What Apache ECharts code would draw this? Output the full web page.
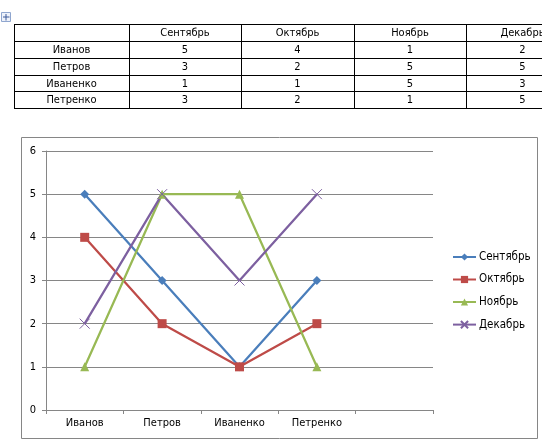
<!DOCTYPE html>
<html>
<head>
<meta charset="utf-8">
<script src="https://cdn.jsdelivr.net/npm/echarts@6/dist/echarts.min.js"></script>
<style>
html,body{margin:0;padding:0;background:#fff;}
#c{width:542px;height:446px;}
</style>
</head>
<body>
<div id="c"></div>
<script>
// Data
var people = ['Иванов', 'Петров', 'Иваненко', 'Петренко'];
var months = ['Сентябрь', 'Октябрь', 'Ноябрь', 'Декабрь'];
var sep = [5, 3, 1, 3];
var oct = [4, 2, 1, 2];
var nov = [1, 5, 5, 1];
var dec = [2, 5, 3, 5];
var yTicks = [0, 1, 2, 3, 4, 5, 6];

var seriesValues = [sep, oct, nov, dec];
var colors = ['#4A7EBB', '#BE4B48', '#98B954', '#7D60A0'];
var symbols = ['diamond', 'rect', 'triangle', 'path://M0,0 L10,10 M10,0 L0,10'];
var symbolSizes = [9, 9, 9, 10];
var FAMILY = '"DejaVu Sans Condensed", "Liberation Sans", sans-serif';
var FONT = '11px ' + FAMILY;

// Table (graphic), built from arrays
var colX = [14, 129, 241, 354, 466, 579];
var rowY = [24, 41, 58, 74.5, 91, 107.5];
var g = [];
function hline(y, x1, x2) { g.push({type:'line', shape:{x1:x1, y1:Math.round(y)+0.5, x2:x2, y2:Math.round(y)+0.5}, style:{stroke:'#000', lineWidth:1}, silent:true}); }
function vline(x, y1, y2) { g.push({type:'line', shape:{x1:Math.round(x)+0.5, y1:y1, x2:Math.round(x)+0.5, y2:y2}, style:{stroke:'#000', lineWidth:1}, silent:true}); }
function cell(text, ci, ri) {
  g.push({type:'text', x:(colX[ci]+colX[ci+1])/2, y:(rowY[ri]+rowY[ri+1])/2+1,
    style:{text:text, align:'center', verticalAlign:'middle', font:FONT, fill:'#000'}, silent:true});
}
for (var r = 0; r < rowY.length; r++) hline(rowY[r], colX[0], 542);
for (var c = 0; c < 5; c++) vline(colX[c], Math.round(rowY[0]), Math.round(rowY[rowY.length-1]) + 1);
for (var m = 0; m < months.length; m++) cell(months[m], m+1, 0);
for (var p = 0; p < people.length; p++) {
  cell(people[p], 0, p+1);
  for (var m2 = 0; m2 < months.length; m2++) cell(String(seriesValues[m2][p]), m2+1, p+1);
}
// move handle icon
g.push({type:'rect', shape:{x:1.5, y:12.5, width:9, height:9}, style:{fill:'#eef2fa', stroke:'#8fa6cf', lineWidth:1}, silent:true});
g.push({type:'line', shape:{x1:6, y1:14, x2:6, y2:20.5}, style:{stroke:'#3c5a9a', lineWidth:1}, silent:true});
g.push({type:'line', shape:{x1:3, y1:17, x2:9.5, y2:17}, style:{stroke:'#3c5a9a', lineWidth:1}, silent:true});
// chart border
g.push({type:'rect', shape:{x:21.5, y:137.5, width:516, height:301}, style:{fill:'none', stroke:'#868686', lineWidth:1}, silent:true});

var series = months.map(function (name, i) {
  return {
    name: name,
    type: 'line',
    data: seriesValues[i],
    symbol: symbols[i],
    symbolSize: symbolSizes[i],
    showAllSymbol: true,
    lineStyle: {color: colors[i], width: 2.25},
    itemStyle: {color: i === 3 ? 'none' : colors[i], borderColor: colors[i], borderWidth: i === 3 ? 1 : 0},
    emphasis: {disabled: true},
    animation: false,
    z: 3
  };
});

var chart = echarts.init(document.getElementById('c'), null, {renderer: 'canvas'});
chart.setOption({
  backgroundColor: '#fff',
  animation: false,
  textStyle: {fontFamily: FAMILY},
  graphic: g,
  grid: {left: 46, right: 109, top: 151, bottom: 36, containLabel: false},
  legend: {
    orient: 'vertical',
    left: 452,
    top: 251,
    padding: 0,
    itemWidth: 23,
    itemHeight: 9,
    itemGap: 10.5,
    textStyle: {fontSize: 11.5, color: '#000', padding: [0, 0, 0, -2], fontFamily: FAMILY},
    data: months,
    selectedMode: false
  },
  xAxis: {
    type: 'category',
    data: people.concat(['']),
    boundaryGap: true,
    axisLine: {show: true, lineStyle: {color: '#868686', width: 1}},
    axisTick: {show: true, length: 4, lineStyle: {color: '#868686'}},
    axisLabel: {color: '#000', fontSize: 11, margin: 8, interval: 0, fontFamily: FAMILY},
    splitLine: {show: false}
  },
  yAxis: {
    type: 'value',
    min: yTicks[0],
    max: yTicks[yTicks.length - 1],
    interval: 1,
    axisLine: {show: true, lineStyle: {color: '#868686', width: 1}},
    axisTick: {show: true, length: 4, lineStyle: {color: '#868686'}},
    axisLabel: {color: '#000', fontSize: 11, margin: 10, fontFamily: FAMILY},
    splitLine: {show: true, lineStyle: {color: '#868686', width: 1}}
  },
  series: series
});
</script>
</body>
</html>
